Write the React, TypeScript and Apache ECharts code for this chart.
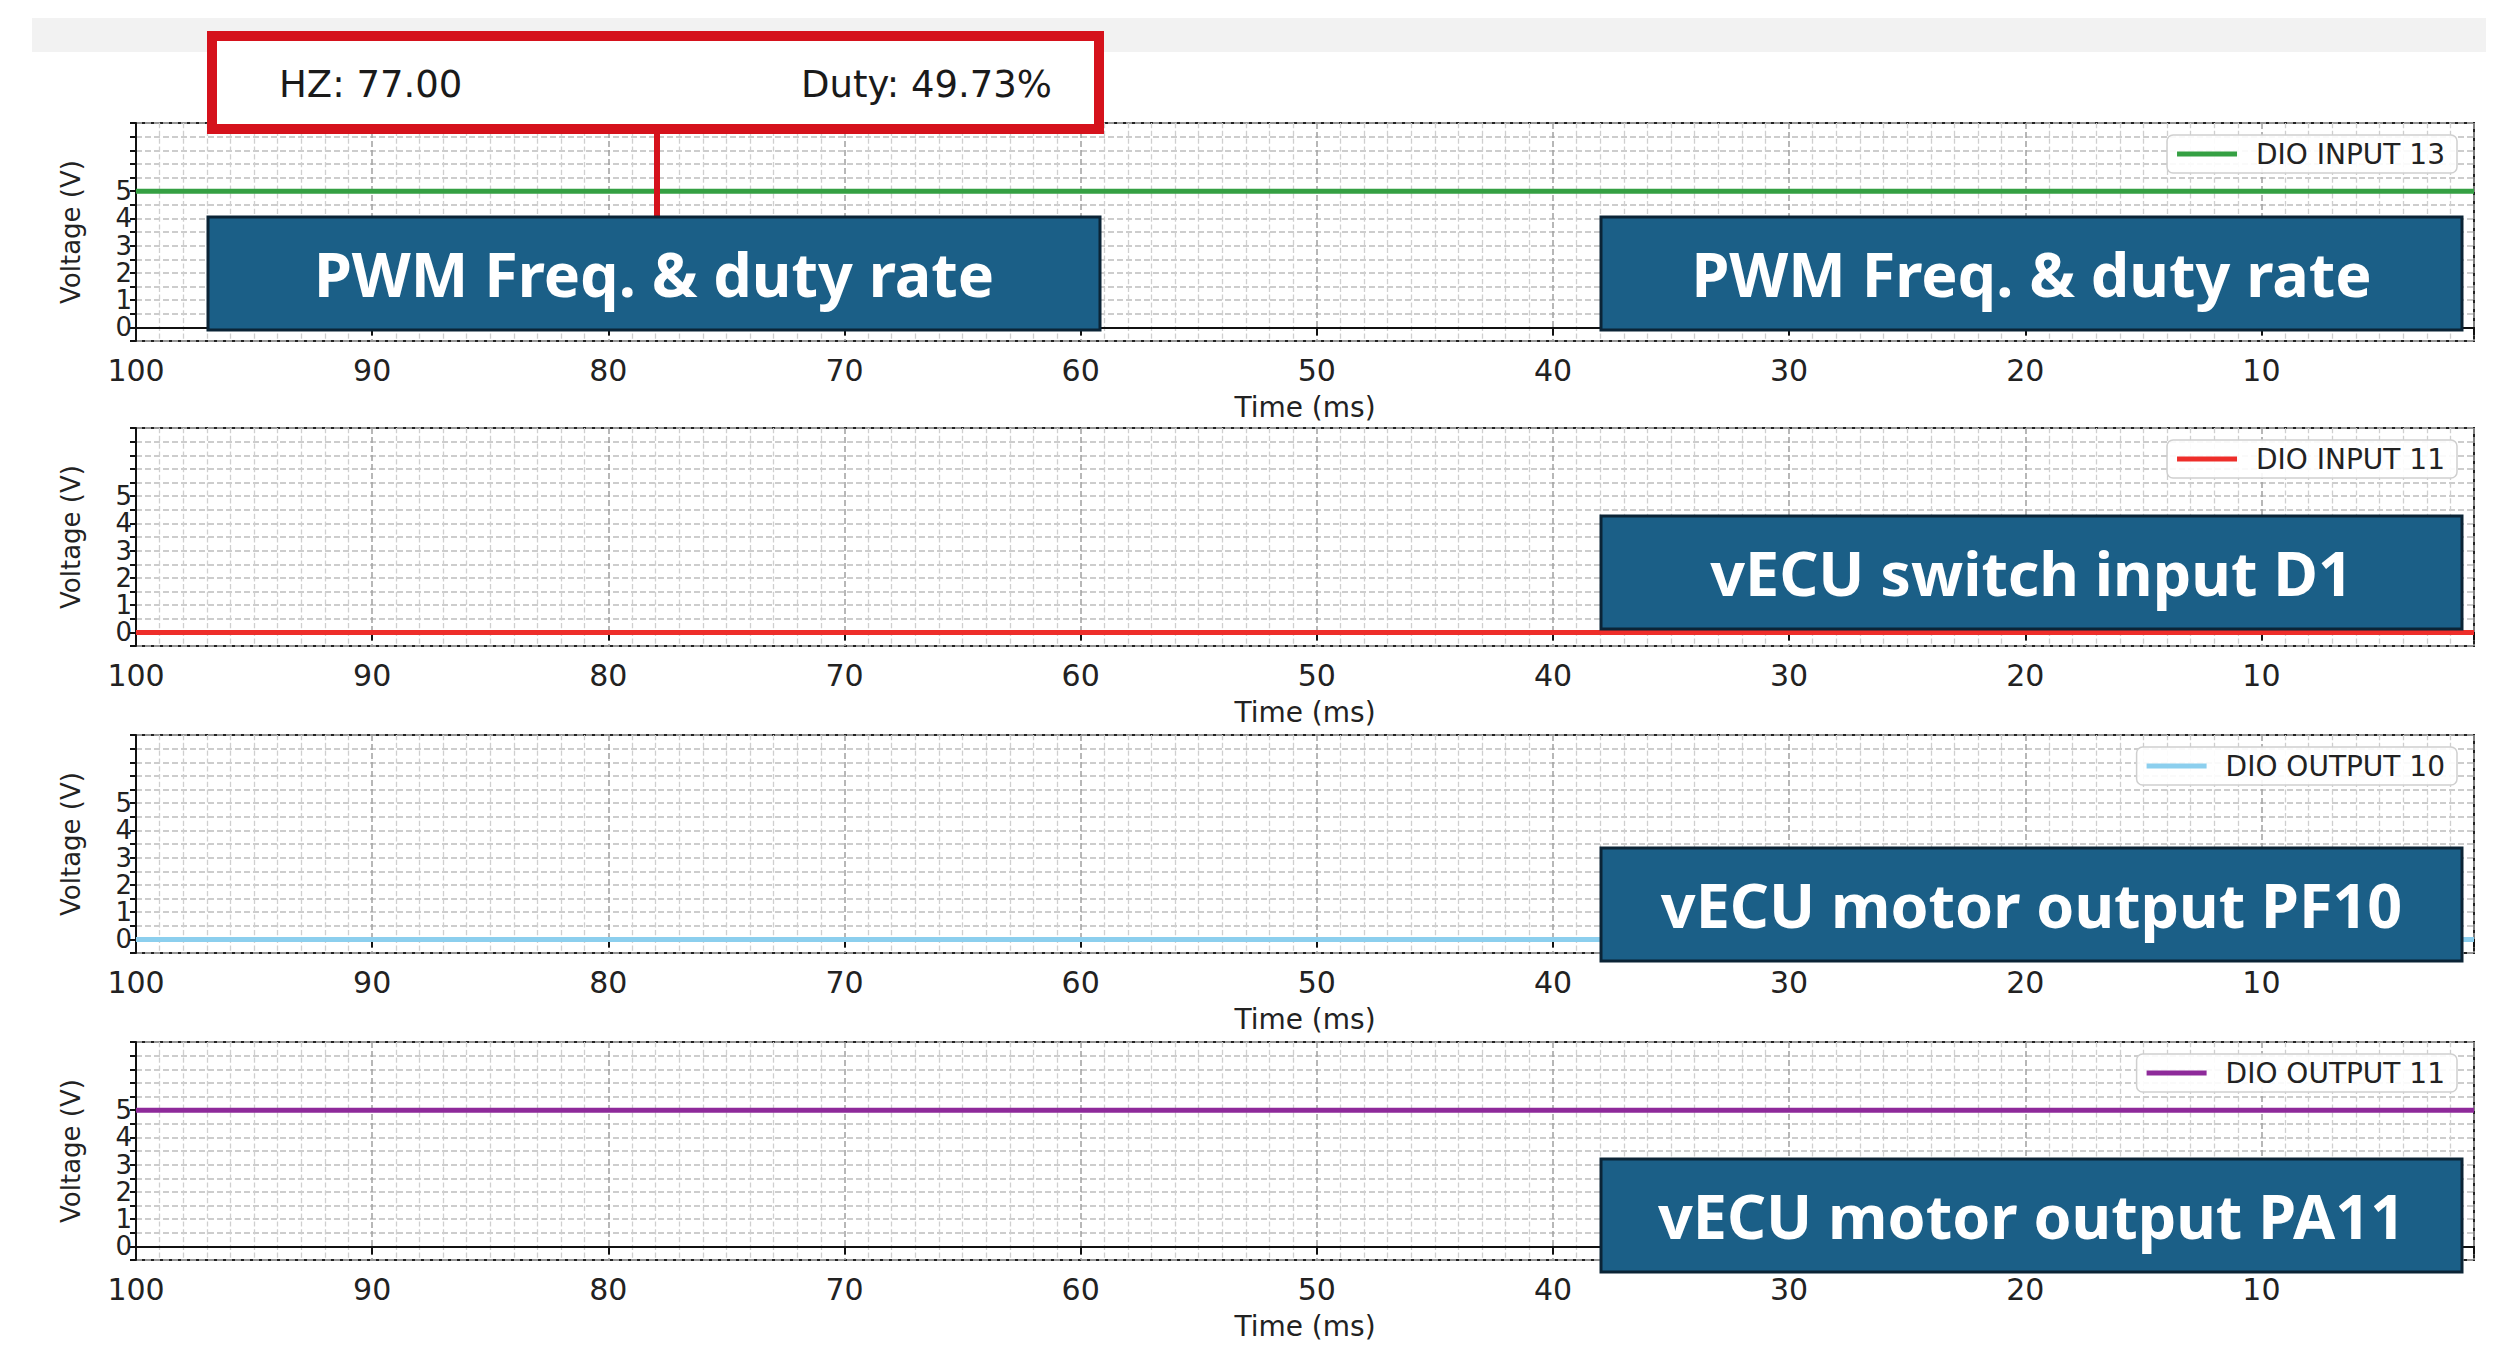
import React, { useEffect, useRef } from 'react';
import * as echarts from 'echarts';

// ---------- data ----------
const timeMs = [100, 90, 80, 70, 60, 50, 40, 30, 20, 10, 1];
const dioInput13 = [5, 5, 5, 5, 5, 5, 5, 5, 5, 5, 5];
const dioInput11 = [0, 0, 0, 0, 0, 0, 0, 0, 0, 0, 0];
const dioOutput10 = [0, 0, 0, 0, 0, 0, 0, 0, 0, 0, 0];
const dioOutput11 = [5, 5, 5, 5, 5, 5, 5, 5, 5, 5, 5];
const seriesValues = [dioInput13, dioInput11, dioOutput10, dioOutput11];
const seriesNames = ['DIO INPUT 13', 'DIO INPUT 11', 'DIO OUTPUT 10', 'DIO OUTPUT 11'];
const boxLabels = ['PWM Freq. & duty rate', 'vECU switch input D1', 'vECU motor output PF10', 'vECU motor output PA11'];
const xTickLabels = [100, 90, 80, 70, 60, 50, 40, 30, 20, 10];
const yTickLabels = [0, 1, 2, 3, 4, 5];
const hzText = 'HZ: 77.00';
const dutyText = 'Duty: 49.73%';
const xAxisTitle = 'Time (ms)';
const yAxisTitle = 'Voltage (V)';

// ---------- styling / layout ----------
const seriesColors = ['#35a043', '#ee2e2a', '#8ccfee', '#8e2a9a'];
const FONT = 'DejaVu Sans';
const PLOT_LEFT = 136;
const PLOT_W = 2338;
const PLOT_H = 218;
const PANEL_TOPS = [123, 428, 735, 1042];
const BOX_TOPS = [217, 516, 848, 1159];
const BOX_H = 113;
const RIGHT_BOX_X = 1601;
const RIGHT_BOX_W = 861;
const BOX_FILL = '#1b5f87';
const BOX_STROKE = '#0b2436';
const RED = '#d5121c';

function buildOption() {
  const grid = PANEL_TOPS.map((top) => ({
    left: PLOT_LEFT,
    top,
    width: PLOT_W,
    height: PLOT_H,
    show: true,
    backgroundColor: '#ffffff',
    borderColor: '#222',
    borderWidth: 2,
  }));

  const xAxis = PANEL_TOPS.map((_, i) => ({
    gridIndex: i,
    type: 'value',
    min: 1,
    max: 100,
    inverse: true,
    splitNumber: 10,
    name: xAxisTitle,
    nameLocation: 'middle',
    nameGap: 52,
    nameTextStyle: { fontSize: 28, color: '#222', fontFamily: FONT },
    axisLine: { show: true, lineStyle: { color: '#111', width: 2 } },
    axisTick: { show: true, length: 8, lineStyle: { color: '#111', width: 2 } },
    axisLabel: {
      fontSize: 30,
      color: '#222',
      fontFamily: FONT,
      margin: 14,
      formatter: (v: number) => (xTickLabels.includes(v) ? String(v) : ''),
    },
    splitLine: { show: true, lineStyle: { color: '#a0a0a0', type: 'dashed', width: 1.5 } },
    minorTick: { show: false, splitNumber: 10 },
    minorSplitLine: { show: true, lineStyle: { color: '#cfcfcf', type: 'dashed', width: 1.3 } },
  }));

  const yAxis = PANEL_TOPS.map((_, i) => ({
    gridIndex: i,
    type: 'value',
    min: -0.5,
    max: 7.5,
    interval: 0.5,
    name: yAxisTitle,
    nameLocation: 'middle',
    nameGap: 52,
    nameTextStyle: { fontSize: 26, color: '#222', fontFamily: FONT },
    axisLine: { show: true, lineStyle: { color: '#111', width: 2 } },
    axisTick: { show: true, length: 6, lineStyle: { color: '#111', width: 2 } },
    axisLabel: {
      fontSize: 26,
      color: '#222',
      fontFamily: FONT,
      margin: 4,
      formatter: (v: number) => (yTickLabels.includes(v) ? String(v) : ''),
    },
    splitLine: { show: true, lineStyle: { color: '#bdbdbd', type: 'dashed', width: 1.5 } },
  }));

  const series = seriesNames.map((name, i) => ({
    name,
    type: 'line',
    xAxisIndex: i,
    yAxisIndex: i,
    showSymbol: false,
    symbol: 'none',
    z: 3,
    lineStyle: { color: seriesColors[i], width: 5 },
    itemStyle: { color: seriesColors[i] },
    data: timeMs.map((t, k) => [t, seriesValues[i][k]]),
  }));

  const legend = seriesNames.map((name, i) => ({
    data: [name],
    right: 50,
    top: PANEL_TOPS[i] + 12,
    icon: 'rect',
    itemWidth: 60,
    itemHeight: 5,
    padding: [5, 12, 5, 10],
    backgroundColor: 'rgba(255,255,255,0.9)',
    borderColor: '#cfcfcf',
    borderWidth: 1.5,
    borderRadius: 6,
    textStyle: { fontSize: 28, color: '#222', fontFamily: FONT, padding: [0, 0, 0, 14] },
  }));

  const elements: any[] = [];
  // faint screenshot band at the very top
  elements.push({
    type: 'rect',
    z: 1,
    shape: { x: 32, y: 18, width: 2454, height: 34 },
    style: { fill: '#f2f2f2' },
  });

  // blue label boxes
  const addBox = (x: number, y: number, w: number, text: string) => {
    elements.push({
      type: 'rect',
      z: 100,
      shape: { x, y, width: w, height: BOX_H },
      style: { fill: BOX_FILL, stroke: BOX_STROKE, lineWidth: 3 },
    });
    elements.push({
      type: 'text',
      z: 101,
      style: {
        text,
        x: x + w / 2,
        y: y + BOX_H / 2,
        fill: '#ffffff',
        font: 'bold 61px "Noto Sans"',
        textAlign: 'center',
        textVerticalAlign: 'middle',
        align: 'center',
        verticalAlign: 'middle',
      },
    });
  };
  addBox(208, BOX_TOPS[0], 892, boxLabels[0]);
  boxLabels.forEach((t, i) => addBox(RIGHT_BOX_X, BOX_TOPS[i], RIGHT_BOX_W, t));

  // red annotation box with connector
  elements.push({
    type: 'line',
    z: 99,
    shape: { x1: 657, y1: 130, x2: 657, y2: BOX_TOPS[0] },
    style: { stroke: RED, lineWidth: 6 },
  });
  elements.push({
    type: 'rect',
    z: 100,
    shape: { x: 212, y: 36, width: 887, height: 93 },
    style: { fill: '#ffffff', stroke: RED, lineWidth: 10 },
  });
  elements.push({
    type: 'text',
    z: 101,
    style: {
      text: hzText,
      x: 279,
      y: 84,
      fill: '#1a1a1a',
      font: `37px "${FONT}"`,
      textAlign: 'left',
      textVerticalAlign: 'middle',
      align: 'left',
      verticalAlign: 'middle',
    },
  });
  elements.push({
    type: 'text',
    z: 101,
    style: {
      text: dutyText,
      x: 1052,
      y: 84,
      fill: '#1a1a1a',
      font: `37px "${FONT}"`,
      textAlign: 'right',
      textVerticalAlign: 'middle',
      align: 'right',
      verticalAlign: 'middle',
    },
  });

  return {
    animation: false,
    backgroundColor: '#ffffff',
    textStyle: { fontFamily: FONT },
    grid,
    xAxis,
    yAxis,
    legend,
    series,
    graphic: { elements },
  };
}

export default function App() {
  const ref = useRef<HTMLDivElement>(null);
  useEffect(() => {
    if (!ref.current) return;
    const chart = echarts.init(ref.current, null, { renderer: 'svg', width: 2507, height: 1350 });
    chart.setOption(buildOption() as any);
    return () => chart.dispose();
  }, []);
  return (
    <div
      ref={ref}
      style={{ position: 'fixed', left: 0, top: 0, width: 2507, height: 1350, background: '#fff' }}
    />
  );
}
